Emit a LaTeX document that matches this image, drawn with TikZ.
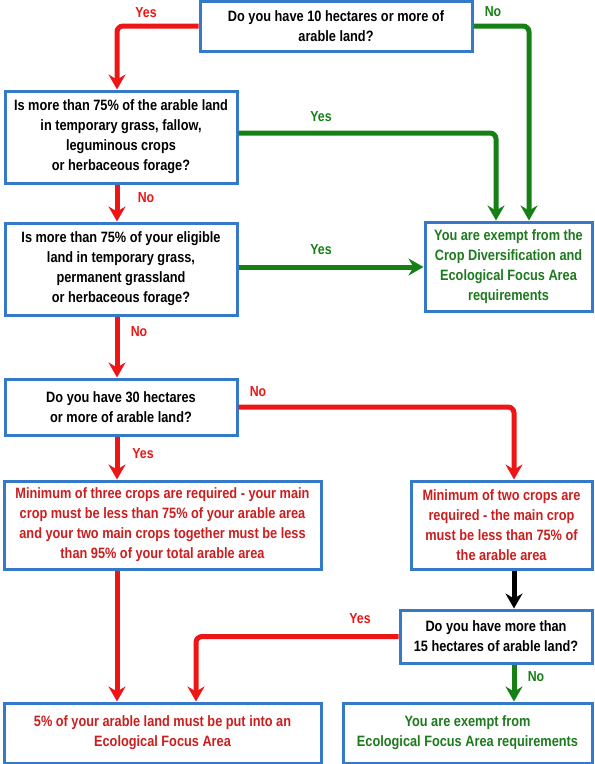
\documentclass[tikz,border=0pt]{standalone}
\usepackage{fontspec}
\setmainfont{Liberation Sans}[FakeStretch=0.85]
\usetikzlibrary{arrows.meta}
\definecolor{lred}{RGB}{236,22,22}
\definecolor{tred}{RGB}{204,30,30}
\definecolor{lgreen}{RGB}{22,128,22}
\definecolor{tgreen}{RGB}{30,122,30}
\definecolor{bblue}{RGB}{52,122,200}
\tikzset{
  box/.style={draw=bblue, line width=3pt, fill=white, align=center, inner sep=0pt,
    font=\bfseries\fontsize{15}{20}\selectfont},
  lbl/.style={font=\bfseries\fontsize{14.5}{16}\selectfont, inner sep=0pt},
  conn/.style={line width=5pt, rounded corners=6pt,
    -{Stealth[length=15pt,width=17pt,inset=5pt]}},
}
\begin{document}
\begin{tikzpicture}[x=1pt,y=-1pt]
\useasboundingbox (0,0) rectangle (595,764);
\fill[white] (0,0) rectangle (595,764);
% nodes
\node[box, minimum width=272pt, minimum height=50pt] (A) at (336,26)
  {Do you have 10 hectares or more of\\arable land?};
\node[box, minimum width=232pt, minimum height=92pt] (B) at (121,137)
  {Is more than 75\% of the arable land\\in temporary grass, fallow,\\leguminous crops\\or herbaceous forage?};
\node[box, minimum width=232pt, minimum height=92pt] (C) at (121,269)
  {Is more than 75\% of your eligible\\land in temporary grass,\\permanent grassland\\or herbaceous forage?};
\node[box, text=tgreen, minimum width=167pt, minimum height=89pt] (D) at (508.5,266.5)
  {You are exempt from the\\Crop Diversification and\\Ecological Focus Area\\requirements};
\node[box, minimum width=232pt, minimum height=56pt] (E) at (121,407)
  {Do you have 30 hectares\\or more of arable land?};
\node[box, text=tred, minimum width=317pt, minimum height=88pt] (F) at (162.5,525)
  {Minimum of three crops are required - your main\\crop must be less than 75\% of your arable area\\and your two main crops together must be less\\than 95\% of your total arable area};
\node[box, text=tred, minimum width=181pt, minimum height=88pt] (G) at (501.5,525)
  {Minimum of two crops are\\required - the main crop\\must be less than 75\% of\\the arable area};
\node[box, minimum width=192pt, minimum height=53pt] (H) at (496,636.5)
  {Do you have more than\\15 hectares of arable land?};
\node[box, text=tred, minimum width=317pt, minimum height=60pt] (I) at (162.5,733)
  {5\% of your arable land must be put into an\\Ecological Focus Area};
\node[box, text=tgreen, minimum width=249pt, minimum height=60pt] (J) at (467.5,733)
  {You are exempt from\\Ecological Focus Area requirements};
% guide coordinates
\coordinate (xl) at (117,0);
\coordinate (xg1) at (496,0);
\coordinate (xg2) at (529,0);
\coordinate (xr) at (514,0);
\coordinate (xy) at (196,0);
% connectors
\draw[conn, lred] (A.west) -| (B.north -| xl);
\draw[conn, lgreen] (A.east) -| (D.north -| xg2);
\draw[conn, lgreen] ([yshift=4pt]B.east) -| (D.north -| xg1);
\draw[conn, lred] (B.south -| xl) -- (C.north -| xl);
\draw[conn, lgreen] ([yshift=2pt]C.east) -- ([yshift=2pt]C.east -| D.west);
\draw[conn, lred] (C.south -| xl) -- (E.north -| xl);
\draw[conn, lred] (E.east) -| (G.north -| xr);
\draw[conn, lred] (E.south -| xl) -- (F.north -| xl);
\draw[conn, lred] (F.south -| xl) -- (I.north -| xl);
\draw[conn, black] (G.south -| xr) -- (H.north -| xr);
\draw[conn, lred] (H.west) -| (I.north -| xy);
\draw[conn, lgreen] (H.south -| xr) -- (J.north -| xr);
% labels
\node[lbl, text=lred] (l1) at (146,13) {Yes};
\node[lbl, text=lgreen] (l2) at (493,12) {No};
\node[lbl, text=lgreen] (l3) at (321,117) {Yes};
\node[lbl, text=lred] (l4) at (146,198) {No};
\node[lbl, text=lgreen] (l5) at (321,250) {Yes};
\node[lbl, text=lred] (l6) at (139,332) {No};
\node[lbl, text=lred] (l7) at (258,392) {No};
\node[lbl, text=lred] (l8) at (143,454) {Yes};
\node[lbl, text=lred] (l9) at (360,619) {Yes};
\node[lbl, text=lgreen] (l10) at (536,677) {No};
\end{tikzpicture}
\end{document}
